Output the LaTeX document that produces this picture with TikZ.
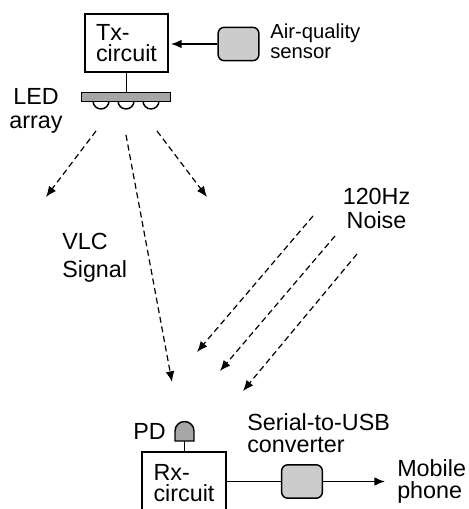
\documentclass[tikz,border=0pt]{standalone}
\usepackage{fontspec}
\setmainfont{Liberation Sans}
\usetikzlibrary{arrows.meta}
\tikzset{
  ckt/.style={draw, line width=1.1pt, fill=white, inner sep=0pt, align=left, font=\fontsize{17.5}{16}\selectfont},
  dev/.style={draw, line width=1.1pt, fill=black!20, rounded corners=4.5pt, inner sep=0pt, minimum width=30.5pt, minimum height=25pt},
  lbl/.style={inner sep=0pt, font=\fontsize{17.5}{17.5}\selectfont},
  small/.style={inner sep=0pt, align=left, font=\fontsize{15.2}{15}\selectfont},
  wire/.style={line width=1.1pt},
  sig/.style={line width=0.9pt, dash pattern=on 4.5pt off 2.8pt, -{Latex[length=8pt,width=6.5pt]}},
  tipwire/.style={line width=1.1pt, -{Latex[length=8pt,width=6.5pt]}}
}
\begin{document}
\begin{tikzpicture}[x=0.75pt,y=-0.75pt]
        \clip (0, 0) rectangle (468, 509);
        % transmitter
        \node[ckt, minimum width=62pt, minimum height=43.5pt] (Tx) at (126.5, 43) {Tx-\\circuit};
        \node[dev] (Sensor) at (238.5, 44) {};
        \node[small, anchor=west] (Sensorl) at (270, 41) {Air-quality\\sensor};
        \node[draw, line width=1.1pt, fill=black!35, inner sep=0pt, minimum width=66.5pt, minimum height=6.5pt] (Bar) at (126, 97) {};
        \foreach \x in {101, 126, 151}
            \draw[wire] (\x-8, 101) arc (180:0:8);
        \node[lbl, align=center] (Ledl) at (36, 111) {LED\\array};
        \coordinate (Txin) at (171, 44);
        \draw (Sensor.west) edge[tipwire] (Txin);
        \draw (Tx.south) edge[wire] (Bar.north -| Tx.south);
        % led beams
        \coordinate (L1a) at (96, 131);
        \coordinate (L1b) at (46, 197);
        \coordinate (L2a) at (126, 135);
        \coordinate (L2b) at (172, 382);
        \coordinate (L3a) at (157, 131);
        \coordinate (L3b) at (207, 197);
        \draw (L1a) edge[sig] (L1b);
        \draw (L2a) edge[sig] (L2b);
        \draw (L3a) edge[sig] (L3b);
        \node[lbl, align=left, anchor=west, font=\fontsize{17.5}{21}\selectfont] (Vlcl) at (62, 258) {VLC\\Signal};
        % noise
        \node[lbl, align=center, font=\fontsize{17.5}{18.5}\selectfont] (Noisel) at (376.5, 208.5) {120Hz\\Noise};
        \coordinate (N1a) at (313, 216);
        \coordinate (N1b) at (197, 352);
        \coordinate (N2a) at (335, 236);
        \coordinate (N2b) at (220, 371);
        \coordinate (N3a) at (357, 254);
        \coordinate (N3b) at (243, 391);
        \draw (N1a) edge[sig] (N1b);
        \draw (N2a) edge[sig] (N2b);
        \draw (N3a) edge[sig] (N3b);
        % receiver
        \node[ckt, minimum width=63pt, minimum height=60pt] (Rx) at (184, 492) {};
        \node[ckt, draw=none, fill=none] (Rxl) at (184, 483) {Rx-\\circuit};
        \coordinate (Pdb) at (184.5, 441);
        \draw[wire] (Rx.north -| Pdb) -- (Pdb);
        \draw[line width=1.1pt, fill=black!35] (175, 441) -- (175, 431) arc (180:360:9.5) -- (194, 441) -- cycle;
        \node[lbl, anchor=east] (Pdl) at (166, 431) {PD};
        \node[dev] (Conv) at (302, 481.5) {};
        \node[lbl, align=left, font=\fontsize{17.5}{16}\selectfont, anchor=west] (Convl) at (247, 433) {Serial-to-USB\\converter};
        \node[lbl, align=left, font=\fontsize{17.5}{16.5}\selectfont, anchor=west] (Phone) at (397, 481.5) {Mobile\\phone};
        \coordinate (Phonein) at (385, 481.5);
        \draw (Rx.east |- Conv) edge[wire] (Conv.west);
        \draw (Conv.east) edge[tipwire] (Phonein);
    \end{tikzpicture}
\end{document}
